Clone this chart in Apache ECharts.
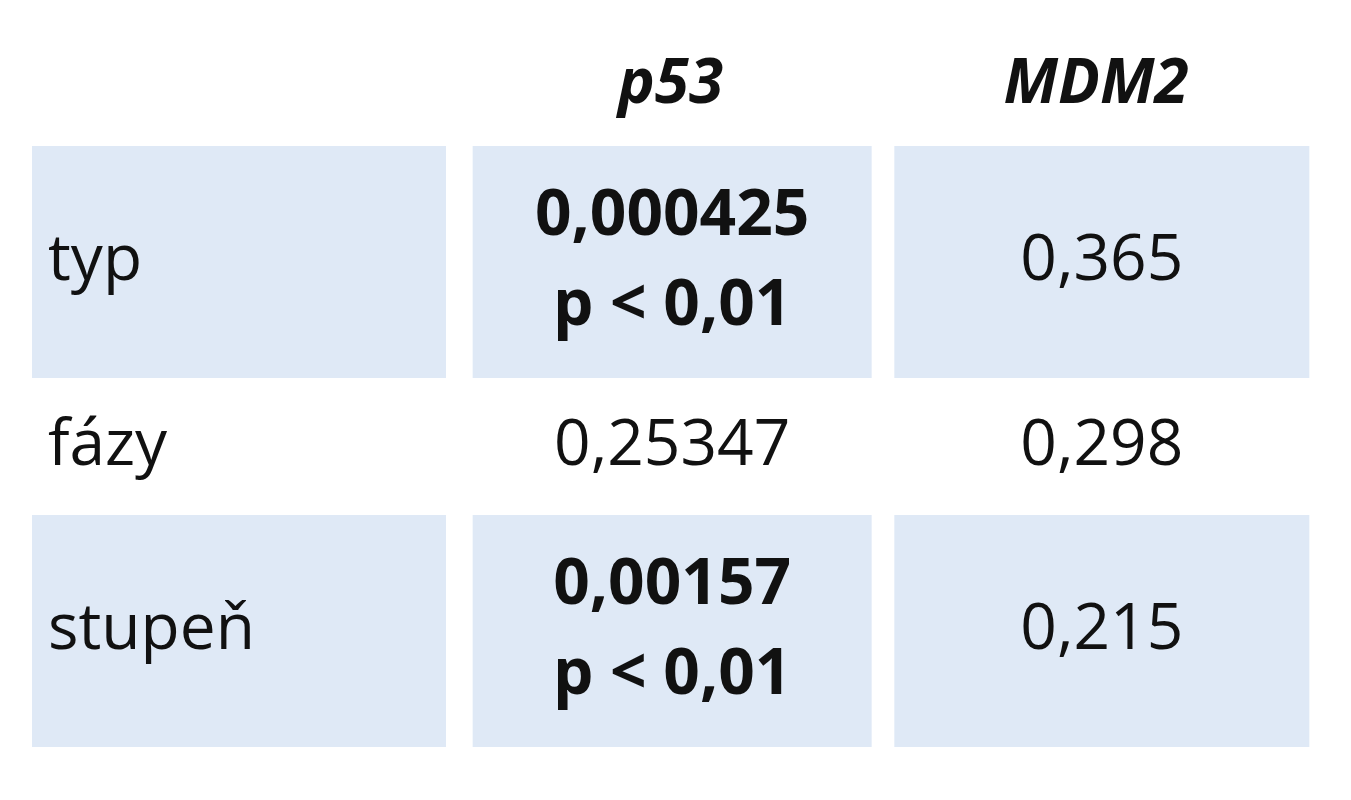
<!DOCTYPE html>
<html><head><meta charset="utf-8">
<script src="https://cdn.jsdelivr.net/npm/echarts@6/dist/echarts.min.js"></script>
<style>html,body{margin:0;background:#fff}#c{width:1351px;height:800px}</style></head>
<body><div id="c"></div>
<script>
const columns = ['', 'p53', 'MDM2'];
const rowLabels = ['typ', 'fázy', 'stupeň'];
const p53Values = ['0,000425\np < 0,01', '0,25347', '0,00157\np < 0,01'];
const mdm2Values = ['0,365', '0,298', '0,215'];
const significant = [true, false, true];

const gap = 0.09;
let y = 0; const extents = [];
rowLabels.forEach((r, i) => {
  const lines = p53Values[i].split('\n').length;
  const h = lines === 2 ? 2 : 1;
  const pad = lines === 2 ? 0 : gap;
  extents.push([y + pad, y + pad + h]);
  y += h + 2 * pad;
});
const total = y;
const data = [];
rowLabels.forEach((r, i) => {
  const cells = [r, p53Values[i], mdm2Values[i]];
  cells.forEach((t, c) => data.push([c, extents[i][0], extents[i][1], t, (c === 1 && significant[i]) ? 1 : 0, significant[i] ? 1 : 0]));
});
const insets = [0, 15, 11];
const widths = [414, 399, 415];

const chart = echarts.init(document.getElementById('c'));
chart.setOption({
  animation: false,
  grid: {left: 32, right: 42, top: 146, bottom: 53},
  xAxis: {type: 'category', data: columns, position: 'top', axisLine: {show: false}, axisTick: {show: false},
    axisLabel: {fontSize: 62, fontStyle: 'italic', fontWeight: 'bold', color: '#111', margin: 30, fontFamily: 'Open Sans'}},
  yAxis: {type: 'value', min: 0, max: total, inverse: true, show: false},
  series: [{
    type: 'custom', data,
    encode: {x: 0, y: [1, 2]},
    renderItem(params, api) {
      const c = api.value(0);
      const p0 = api.coord([c, api.value(1)]);
      const p1 = api.coord([c, api.value(2)]);
      const bw = api.size([1, 0])[0];
      const w = widths[c];
      const x0 = p0[0] - bw / 2 + insets[c];
      const shaded = api.value(5);
      const txt = data[params.dataIndex][3];
      return {type: 'group', children: [
        {type: 'rect', shape: {x: x0, y: p0[1], width: w, height: p1[1] - p0[1]},
          style: {fill: shaded ? '#dfe9f6' : 'transparent'}},
        {type: 'text', style: {text: txt, x: c === 0 ? x0 + 16 : x0 + w / 2, y: (p0[1] + p1[1]) / 2,
          align: c === 0 ? 'left' : 'center', verticalAlign: 'middle', fontSize: 64, lineHeight: 90,
          fontWeight: api.value(4) ? 'bold' : 'normal', fontFamily: 'Open Sans', fill: '#111'}}
      ]};
    }
  }]
});
</script></body></html>
